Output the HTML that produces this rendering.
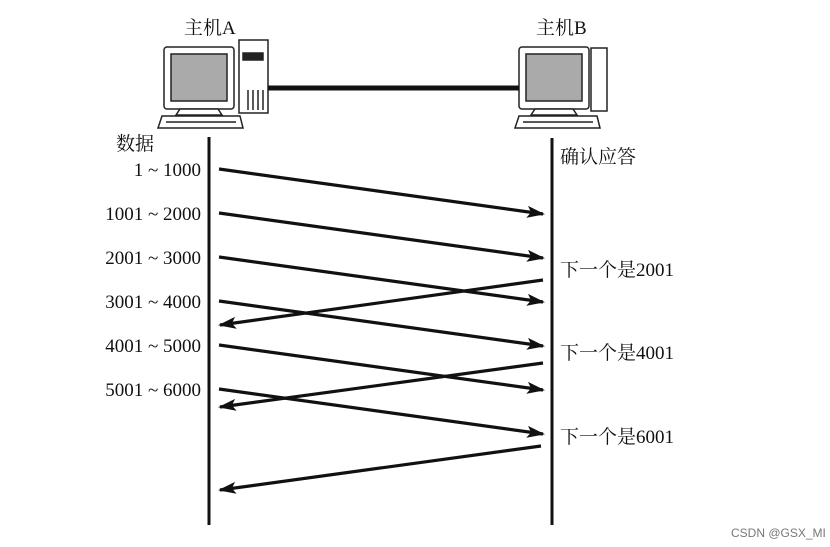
<!DOCTYPE html>
<html><head><meta charset="utf-8"><style>
html,body{margin:0;padding:0;background:#fff;width:830px;height:547px;overflow:hidden}
text{font-family:"Liberation Serif","Noto Serif CJK SC",serif;fill:#111}
</style></head><body>
<svg width="830" height="547" viewBox="0 0 830 547" xmlns="http://www.w3.org/2000/svg">
<defs>
<marker id="ah" markerWidth="18" markerHeight="12" refX="16" refY="6" orient="auto" markerUnits="userSpaceOnUse" viewBox="0 0 18 12">
<path d="M0,0 L18,6 L0,12 L4,6 Z" fill="#111"/></marker>
</defs>
<g stroke="#222" stroke-width="1.5" fill="#fff">
<rect x="239" y="40" width="29" height="73"/>
<rect x="243" y="53" width="20" height="7" fill="#222"/>
<line x1="248" y1="90" x2="248" y2="110"/><line x1="253" y1="90" x2="253" y2="110"/><line x1="258" y1="90" x2="258" y2="110"/><line x1="263" y1="90" x2="263" y2="110"/>
<rect x="164" y="47" width="70" height="62" rx="3"/>
<rect x="171" y="54" width="56" height="47" fill="#aaa"/>
<path d="M180 109 L218 109 L222 115 L176 115 Z"/>
<path d="M162 116 L240 116 L243 128 L158 128 Z"/>
<line x1="166" y1="122" x2="236" y2="122"/>
</g>
<g stroke="#222" stroke-width="1.5" fill="#fff">
<rect x="591" y="48" width="16" height="63"/>
<rect x="519" y="47" width="70" height="62" rx="3"/>
<rect x="526" y="54" width="56" height="47" fill="#aaa"/>
<path d="M535 109 L573 109 L577 115 L531 115 Z"/>
<path d="M519 116 L597 116 L600 128 L515 128 Z"/>
<line x1="523" y1="122" x2="593" y2="122"/>
</g>
<line x1="268" y1="88" x2="519" y2="88" stroke="#111" stroke-width="5"/>
<line x1="209" y1="137" x2="209" y2="525" stroke="#111" stroke-width="3"/>
<line x1="552" y1="138" x2="552" y2="525" stroke="#111" stroke-width="3"/>
<g stroke="#111" stroke-width="3.2" marker-end="url(#ah)">
<line x1="219" y1="169" x2="543" y2="214"/>
<line x1="219" y1="213" x2="543" y2="258"/>
<line x1="219" y1="257" x2="543" y2="302"/>
<line x1="219" y1="301" x2="543" y2="346"/>
<line x1="219" y1="345" x2="543" y2="390"/>
<line x1="219" y1="389" x2="543" y2="434"/>
<line x1="543" y1="280" x2="220" y2="325"/>
<line x1="543" y1="363" x2="220" y2="407"/>
<line x1="541" y1="446" x2="220" y2="490"/>
</g>
<g font-size="19">
<text x="184" y="34">主机A</text>
<text x="536" y="34">主机B</text>
<text x="116" y="150">数据</text>
<text x="560" y="163">确认应答</text>
<text x="560" y="276">下一个是2001</text>
<text x="560" y="359">下一个是4001</text>
<text x="560" y="443">下一个是6001</text>
</g>
<g font-size="19" text-anchor="end">
<text x="201" y="176">1 ~ 1000</text>
<text x="201" y="220">1001 ~ 2000</text>
<text x="201" y="264">2001 ~ 3000</text>
<text x="201" y="308">3001 ~ 4000</text>
<text x="201" y="352">4001 ~ 5000</text>
<text x="201" y="396">5001 ~ 6000</text>
</g>
<text x="731" y="537" font-size="12" style="font-family:'Liberation Sans',sans-serif;fill:#777">CSDN @GSX_MI</text>
</svg>
</body></html>
